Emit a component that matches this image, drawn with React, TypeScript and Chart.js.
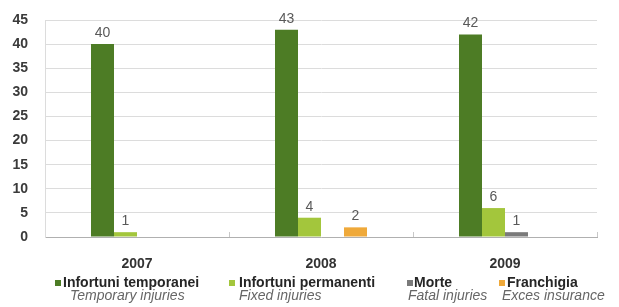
import React, { useEffect, useRef } from 'react';
import { Chart, registerables } from 'chart.js';

Chart.register(...registerables);

const years = ['2007', '2008', '2009'];
const infortuniTemporanei = [40, 43, 42];
const infortuniPermanenti = [1, 4, 6];
const morte = [0, 0, 1];
const franchigia = [0, 2, 0];
const seriesIt = ['Infortuni temporanei', 'Infortuni permanenti', 'Morte', 'Franchigia'];
const seriesEn = ['Temporary injuries', 'Fixed injuries', 'Fatal injuries', 'Exces insurance'];
const yMax = 45;
const yStep = 5;

const COLORS = ['#4d7c25', '#a3c63c', '#7a7a7a', '#efa93a'];
const FONT = '"Liberation Sans", Arial, sans-serif';

// legend layout (pixels)
const LEGEND_MARKER_X = [55, 229, 407, 499];
const LEGEND_TEXT_X = [63, 239, 414, 507];
const LEGEND_LINE2_X = [70, 239, 408, 502];
const LEGEND_Y1 = 283;
const LEGEND_Y2 = 296;

const valueLabels = {
  id: 'valueLabels',
  afterDatasetsDraw(chart: any) {
    const ctx = chart.ctx;
    ctx.save();
    ctx.font = `14px ${FONT}`;
    ctx.fillStyle = '#595959';
    ctx.textAlign = 'center';
    ctx.textBaseline = 'middle';
    chart.data.datasets.forEach((ds: any, i: number) => {
      const meta = chart.getDatasetMeta(i);
      meta.data.forEach((el: any, j: number) => {
        const v = ds.data[j];
        if (!v) return;
        ctx.fillText(String(v), el.x, el.y - 11);
      });
    });
    ctx.restore();
  },
};

const twoLineLegend = {
  id: 'twoLineLegend',
  afterDraw(chart: any) {
    const ctx = chart.ctx;
    ctx.save();
    ctx.textBaseline = 'middle';
    ctx.textAlign = 'left';
    chart.data.datasets.forEach((ds: any, i: number) => {
      ctx.fillStyle = ds.backgroundColor;
      ctx.fillRect(LEGEND_MARKER_X[i], LEGEND_Y1 - 3, 6, 6);
      ctx.fillStyle = '#262626';
      ctx.font = `bold 14px ${FONT}`;
      ctx.fillText(seriesIt[i], LEGEND_TEXT_X[i], LEGEND_Y1);
      ctx.fillStyle = '#666666';
      ctx.font = `italic 14px ${FONT}`;
      ctx.fillText(seriesEn[i], LEGEND_LINE2_X[i], LEGEND_Y2);
    });
    ctx.restore();
  },
};

export default function App() {
  const ref = useRef<HTMLCanvasElement | null>(null);

  useEffect(() => {
    document.body.style.margin = '0';
    const canvas = ref.current;
    if (!canvas) return;
    const chart = new Chart(canvas, {
      type: 'bar',
      data: {
        labels: years,
        datasets: [
          { label: seriesIt[0], data: infortuniTemporanei, backgroundColor: COLORS[0] },
          { label: seriesIt[1], data: infortuniPermanenti, backgroundColor: COLORS[1] },
          { label: seriesIt[2], data: morte, backgroundColor: COLORS[2] },
          { label: seriesIt[3], data: franchigia, backgroundColor: COLORS[3] },
        ],
      },
      options: {
        responsive: false,
        animation: false,
        layout: { padding: { top: 20, right: 22, left: 0, bottom: 0 } },
        datasets: { bar: { categoryPercentage: 0.5, barPercentage: 1 } },
        plugins: {
          legend: { display: false },
          tooltip: { enabled: false },
        },
        scales: {
          x: {
            afterFit: (s: any) => { s.height = 70; },
            grid: {
              display: true,
              drawOnChartArea: false,
              drawTicks: true,
              tickLength: -5,
              color: '#c8c8c8',
              offset: true,
            },
            border: { display: true, color: '#b0b0b0', width: 1 },
            ticks: {
              padding: 24,
              color: '#333333',
              font: { family: FONT, size: 14, weight: 'bold' },
            },
          },
          y: {
            min: 0,
            max: yMax,
            afterFit: (s: any) => {
              s.width = 45;
              s.paddingTop = 0;
              s.paddingBottom = 0;
            },
            grid: { color: '#dcdcdc', drawTicks: false },
            border: { display: true, color: '#dcdcdc' },
            ticks: {
              stepSize: yStep,
              padding: 17,
              color: '#3a3a3a',
              font: { family: FONT, size: 14, weight: 'bold' },
            },
          },
        },
      },
      plugins: [valueLabels, twoLineLegend],
    } as any);
    return () => chart.destroy();
  }, []);

  return (
    <div style={{ width: 619, height: 307, background: '#fff' }}>
      <canvas ref={ref} width={619} height={307} style={{ display: 'block' }} />
    </div>
  );
}
